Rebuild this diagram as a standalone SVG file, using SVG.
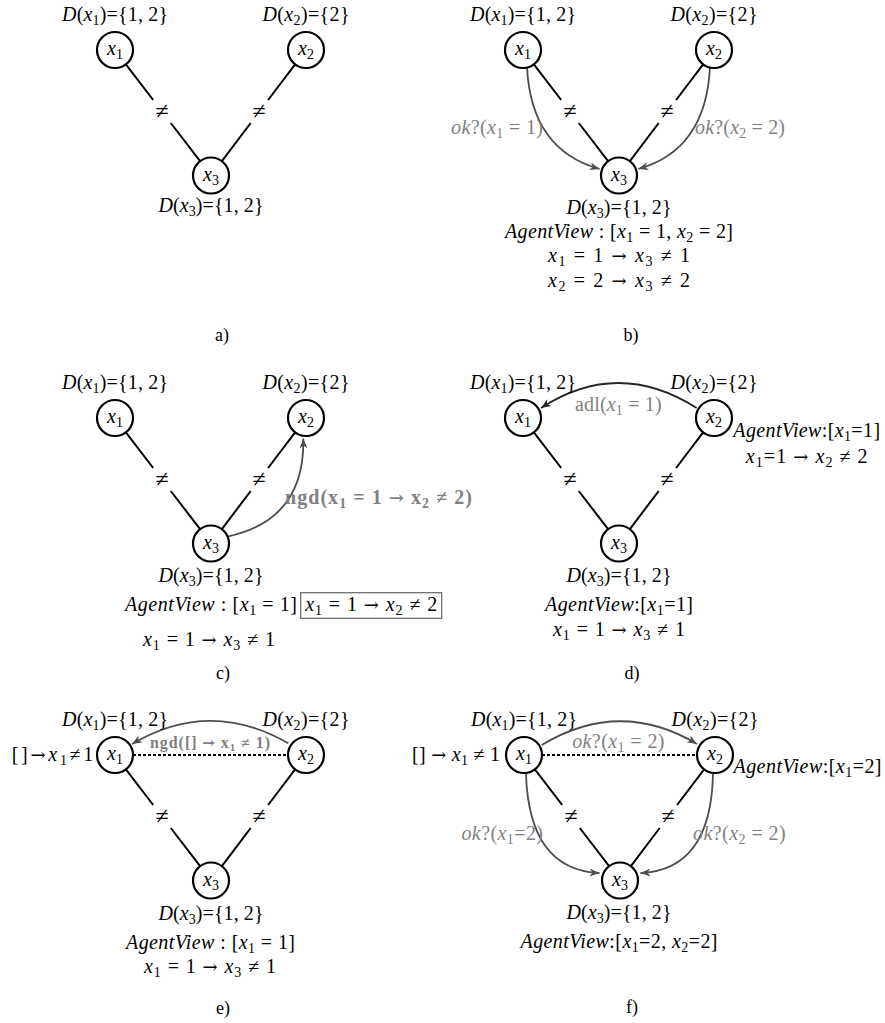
<svg xmlns="http://www.w3.org/2000/svg" width="885" height="1023" viewBox="0 0 885 1023">
<style>
text{font-family:"Liberation Serif","DejaVu Serif",serif;font-size:20px;fill:#000}
.c{text-anchor:middle}
.e{text-anchor:end}
.i{font-style:italic}
.sb{font-size:14px}
.g{fill:#7f7f7f}
.bd{font-weight:bold}
.op{font-family:"DejaVu Serif",serif;font-size:18px}
.nq{font-size:24px;text-anchor:middle}
.nd circle{fill:#fff;stroke:#000;stroke-width:2.2}
.ed{stroke:#000;stroke-width:2;fill:none}
.ar{stroke:#4d4d4d;stroke-width:1.8;fill:none;marker-end:url(#ah)}
.ard{stroke:#262626;stroke-width:1.8;fill:none;marker-end:url(#ahd)}
.dash{stroke:#000;stroke-width:2;stroke-dasharray:3 2;fill:none}
.pl{font-size:18px;text-anchor:middle}
</style>
<defs>
<marker id="ah" markerUnits="userSpaceOnUse" markerWidth="12" markerHeight="10" refX="10" refY="4" orient="auto"><path d="M0,0 L10,4 L0,8 L3,4 z" fill="#4d4d4d"/></marker>
<marker id="ahd" markerUnits="userSpaceOnUse" markerWidth="12" markerHeight="10" refX="10" refY="4" orient="auto"><path d="M0,0 L10,4 L0,8 L3,4 z" fill="#262626"/></marker>
</defs>
<rect width="885" height="1023" fill="#fff"/>

<!-- Panel a -->
<g id="panel-a" transform="translate(115,50)">
<g id="a-connectors">
<path class="ed" d="M10.9,14.3 L38.2,50 M55.8,73 L85.1,111.2"/>
<path class="ed" d="M180.1,14.4 L153.1,50 M135.7,73 L106.9,111.1"/>
<text class="nq" x="47" y="69">≠</text>
<text class="nq" x="144" y="69">≠</text>
</g>
<g id="a-x1" class="nd"><circle r="18"/><text class="c" y="5"><tspan class="i">x</tspan><tspan class="sb" dy="4">1</tspan></text>
<text class="c" y="-29" textLength="106"><tspan class="i">D</tspan>(<tspan class="i">x</tspan><tspan class="sb" dy="4">1</tspan><tspan dy="-4">)={1, 2}</tspan></text></g>
<g id="a-x2" class="nd"><circle cx="191" r="18"/><text class="c" x="191" y="5"><tspan class="i">x</tspan><tspan class="sb" dy="4">2</tspan></text>
<text class="c" x="191" y="-29" textLength="87"><tspan class="i">D</tspan>(<tspan class="i">x</tspan><tspan class="sb" dy="4">2</tspan><tspan dy="-4">)={2}</tspan></text></g>
<g id="a-x3" class="nd"><circle cx="96" cy="125.5" r="18"/><text class="c" x="96" y="130.5"><tspan class="i">x</tspan><tspan class="sb" dy="4">3</tspan></text>
<text class="c" x="96" y="162" textLength="105"><tspan class="i">D</tspan>(<tspan class="i">x</tspan><tspan class="sb" dy="4">3</tspan><tspan dy="-4">)={1, 2}</tspan></text></g>
</g>
<text class="pl" x="222" y="341">a)</text>

<!-- Panel b -->
<g id="panel-b" transform="translate(523,50)">
<g id="b-connectors">
<path class="ed" d="M10.9,14.3 L38.2,50 M55.8,73 L85.1,111.2"/>
<path class="ed" d="M180.1,14.4 L153.1,50 M135.7,73 L106.9,111.1"/>
<text class="nq" x="47" y="69">≠</text>
<text class="nq" x="144" y="69">≠</text>
<path class="ar" d="M4,16.7 Q8,100 76.6,118.9"/>
<path class="ar" d="M187,16.7 Q183,100 115.4,118.9"/>
<text class="e g" x="20" y="84" textLength="92"><tspan class="i">ok</tspan>?(<tspan class="i">x</tspan><tspan class="sb" dy="4">1</tspan><tspan dy="-4"> = 1)</tspan></text>
<text class="g" x="172" y="84" textLength="90"><tspan class="i">ok</tspan>?(<tspan class="i">x</tspan><tspan class="sb" dy="4">2</tspan><tspan dy="-4"> = 2)</tspan></text>
</g>
<g id="b-x1" class="nd"><circle r="18"/><text class="c" y="5"><tspan class="i">x</tspan><tspan class="sb" dy="4">1</tspan></text>
<text class="c" y="-29" textLength="106"><tspan class="i">D</tspan>(<tspan class="i">x</tspan><tspan class="sb" dy="4">1</tspan><tspan dy="-4">)={1, 2}</tspan></text></g>
<g id="b-x2" class="nd"><circle cx="191" r="18"/><text class="c" x="191" y="5"><tspan class="i">x</tspan><tspan class="sb" dy="4">2</tspan></text>
<text class="c" x="191" y="-29" textLength="87"><tspan class="i">D</tspan>(<tspan class="i">x</tspan><tspan class="sb" dy="4">2</tspan><tspan dy="-4">)={2}</tspan></text></g>
<g id="b-x3" class="nd"><circle cx="96" cy="125.5" r="18"/><text class="c" x="96" y="130.5"><tspan class="i">x</tspan><tspan class="sb" dy="4">3</tspan></text>
<text class="c" x="96" y="164" textLength="105"><tspan class="i">D</tspan>(<tspan class="i">x</tspan><tspan class="sb" dy="4">3</tspan><tspan dy="-4">)={1, 2}</tspan></text>
<text class="c" x="96" y="188" textLength="228"><tspan class="i">AgentView</tspan> : [<tspan class="i">x</tspan><tspan class="sb" dy="4">1</tspan><tspan dy="-4"> = 1, </tspan><tspan class="i">x</tspan><tspan class="sb" dy="4">2</tspan><tspan dy="-4"> = 2]</tspan></text>
<text class="c" x="96" y="212" textLength="142"><tspan class="i">x</tspan><tspan class="sb" dy="4">1</tspan><tspan dy="-4"> = 1 </tspan><tspan class="op">→</tspan> <tspan class="i">x</tspan><tspan class="sb" dy="4">3</tspan><tspan dy="-4"> ≠ 1</tspan></text>
<text class="c" x="96" y="237" textLength="142"><tspan class="i">x</tspan><tspan class="sb" dy="4">2</tspan><tspan dy="-4"> = 2 </tspan><tspan class="op">→</tspan> <tspan class="i">x</tspan><tspan class="sb" dy="4">3</tspan><tspan dy="-4"> ≠ 2</tspan></text></g>
</g>
<text class="pl" x="631" y="341">b)</text>

<!-- Panel c -->
<g id="panel-c" transform="translate(115,418)">
<g id="c-connectors">
<path class="ed" d="M10.9,14.3 L38.2,50 M55.8,73 L85.1,111.2"/>
<path class="ed" d="M180.1,14.4 L153.1,50 M135.7,73 L106.9,111.1"/>
<text class="nq" x="47" y="69">≠</text>
<text class="nq" x="144" y="69">≠</text>
<path class="ar" d="M113.3,118.4 Q190,101.7 188.3,20.5"/>
<text class="g bd" x="170" y="86" textLength="187">ngd(x<tspan class="sb" dy="4">1</tspan><tspan dy="-4"> = 1 </tspan><tspan class="op">→</tspan> x<tspan class="sb" dy="4">2</tspan><tspan dy="-4"> ≠ 2)</tspan></text>
</g>
<g id="c-x1" class="nd"><circle r="18"/><text class="c" y="5"><tspan class="i">x</tspan><tspan class="sb" dy="4">1</tspan></text>
<text class="c" y="-29" textLength="106"><tspan class="i">D</tspan>(<tspan class="i">x</tspan><tspan class="sb" dy="4">1</tspan><tspan dy="-4">)={1, 2}</tspan></text></g>
<g id="c-x2" class="nd"><circle cx="191" r="18"/><text class="c" x="191" y="5"><tspan class="i">x</tspan><tspan class="sb" dy="4">2</tspan></text>
<text class="c" x="191" y="-29" textLength="87"><tspan class="i">D</tspan>(<tspan class="i">x</tspan><tspan class="sb" dy="4">2</tspan><tspan dy="-4">)={2}</tspan></text></g>
<g id="c-x3" class="nd"><circle cx="96" cy="125.5" r="18"/><text class="c" x="96" y="130.5"><tspan class="i">x</tspan><tspan class="sb" dy="4">3</tspan></text>
<text class="c" x="96" y="164" textLength="105"><tspan class="i">D</tspan>(<tspan class="i">x</tspan><tspan class="sb" dy="4">3</tspan><tspan dy="-4">)={1, 2}</tspan></text>
<text x="10" y="193" textLength="172"><tspan class="i">AgentView</tspan> : [<tspan class="i">x</tspan><tspan class="sb" dy="4">1</tspan><tspan dy="-4"> = 1]</tspan></text>
<rect x="185.7" y="174.7" width="141" height="25.6" fill="none" stroke="#666" stroke-width="1.2"/>
<text class="c" x="256.2" y="193" textLength="132"><tspan class="i">x</tspan><tspan class="sb" dy="4">1</tspan><tspan dy="-4"> = 1 </tspan><tspan class="op">→</tspan> <tspan class="i">x</tspan><tspan class="sb" dy="4">2</tspan><tspan dy="-4"> ≠ 2</tspan></text>
<text class="c" x="94" y="228" textLength="132"><tspan class="i">x</tspan><tspan class="sb" dy="4">1</tspan><tspan dy="-4"> = 1 </tspan><tspan class="op">→</tspan> <tspan class="i">x</tspan><tspan class="sb" dy="4">3</tspan><tspan dy="-4"> ≠ 1</tspan></text></g>
</g>
<text class="pl" x="223" y="679">c)</text>

<!-- Panel d -->
<g id="panel-d" transform="translate(523,418)">
<g id="d-connectors">
<path class="ed" d="M10.9,14.3 L38.2,50 M55.8,73 L85.1,111.2"/>
<path class="ed" d="M180.1,14.4 L153.1,50 M135.7,73 L106.9,111.1"/>
<text class="nq" x="47" y="69">≠</text>
<text class="nq" x="144" y="69">≠</text>
<path class="ard" d="M173.7,-10 Q95,-60 18,-10"/>
<text class="c g" x="95.3" y="-7" textLength="86.7">adl(<tspan class="i">x</tspan><tspan class="sb" dy="4">1</tspan><tspan dy="-4"> = 1)</tspan></text>
</g>
<g id="d-x1" class="nd"><circle r="18"/><text class="c" y="5"><tspan class="i">x</tspan><tspan class="sb" dy="4">1</tspan></text>
<text class="c" y="-29" textLength="106"><tspan class="i">D</tspan>(<tspan class="i">x</tspan><tspan class="sb" dy="4">1</tspan><tspan dy="-4">)={1, 2}</tspan></text></g>
<g id="d-x2" class="nd"><circle cx="191" r="18"/><text class="c" x="191" y="5"><tspan class="i">x</tspan><tspan class="sb" dy="4">2</tspan></text>
<text class="c" x="191" y="-29" textLength="87"><tspan class="i">D</tspan>(<tspan class="i">x</tspan><tspan class="sb" dy="4">2</tspan><tspan dy="-4">)={2}</tspan></text>
<text class="c" x="283.7" y="18.7" textLength="146.7"><tspan class="i">AgentView</tspan>:[<tspan class="i">x</tspan><tspan class="sb" dy="4">1</tspan><tspan dy="-4">=1]</tspan></text>
<text class="c" x="283.7" y="44.7" textLength="121.7"><tspan class="i">x</tspan><tspan class="sb" dy="4">1</tspan><tspan dy="-4">=1 </tspan><tspan class="op">→</tspan> <tspan class="i">x</tspan><tspan class="sb" dy="4">2</tspan><tspan dy="-4"> ≠ 2</tspan></text></g>
<g id="d-x3" class="nd"><circle cx="96" cy="125.5" r="18"/><text class="c" x="96" y="130.5"><tspan class="i">x</tspan><tspan class="sb" dy="4">3</tspan></text>
<text class="c" x="96" y="164" textLength="105"><tspan class="i">D</tspan>(<tspan class="i">x</tspan><tspan class="sb" dy="4">3</tspan><tspan dy="-4">)={1, 2}</tspan></text>
<text class="c" x="96" y="193" textLength="148"><tspan class="i">AgentView</tspan>:[<tspan class="i">x</tspan><tspan class="sb" dy="4">1</tspan><tspan dy="-4">=1]</tspan></text>
<text class="c" x="96" y="218" textLength="132"><tspan class="i">x</tspan><tspan class="sb" dy="4">1</tspan><tspan dy="-4"> = 1 </tspan><tspan class="op">→</tspan> <tspan class="i">x</tspan><tspan class="sb" dy="4">3</tspan><tspan dy="-4"> ≠ 1</tspan></text></g>
</g>
<text class="pl" x="632" y="679">d)</text>

<!-- Panel e -->
<g id="panel-e" transform="translate(115,755)">
<g id="e-connectors">
<path class="ed" d="M10.9,14.3 L38.2,50 M55.8,73 L85.1,111.2"/>
<path class="ed" d="M180.1,14.4 L153.1,50 M135.7,73 L106.9,111.1"/>
<text class="nq" x="47" y="69">≠</text>
<text class="nq" x="144" y="69">≠</text>
<path class="dash" d="M18,0 L173,0"/>
<path class="ar" d="M173.3,-11.7 Q95,-57 17,-11"/>
<text class="c g bd" x="95" y="-7" style="font-size:16px" textLength="120">ngd([] <tspan class="op" style="font-size:15px">→</tspan> x<tspan style="font-size:11px" dy="3">1</tspan><tspan dy="-3"> ≠ 1)</tspan></text>
</g>
<g id="e-x1" class="nd"><circle r="18"/><text class="c" y="5"><tspan class="i">x</tspan><tspan class="sb" dy="4">1</tspan></text>
<text class="c" y="-29" textLength="106"><tspan class="i">D</tspan>(<tspan class="i">x</tspan><tspan class="sb" dy="4">1</tspan><tspan dy="-4">)={1, 2}</tspan></text>
<text class="e" x="-21.7" y="6" textLength="81.6">[]<tspan class="op">→</tspan><tspan class="i">x</tspan><tspan class="sb" dy="4">1</tspan><tspan dy="-4">≠1</tspan></text></g>
<g id="e-x2" class="nd"><circle cx="191" r="18"/><text class="c" x="191" y="5"><tspan class="i">x</tspan><tspan class="sb" dy="4">2</tspan></text>
<text class="c" x="191" y="-29" textLength="87"><tspan class="i">D</tspan>(<tspan class="i">x</tspan><tspan class="sb" dy="4">2</tspan><tspan dy="-4">)={2}</tspan></text></g>
<g id="e-x3" class="nd"><circle cx="96" cy="125.5" r="18"/><text class="c" x="96" y="130.5"><tspan class="i">x</tspan><tspan class="sb" dy="4">3</tspan></text>
<text class="c" x="96" y="165" textLength="105"><tspan class="i">D</tspan>(<tspan class="i">x</tspan><tspan class="sb" dy="4">3</tspan><tspan dy="-4">)={1, 2}</tspan></text>
<text class="c" x="95.5" y="194" textLength="169"><tspan class="i">AgentView</tspan> : [<tspan class="i">x</tspan><tspan class="sb" dy="4">1</tspan><tspan dy="-4"> = 1]</tspan></text>
<text class="c" x="95" y="218" textLength="132"><tspan class="i">x</tspan><tspan class="sb" dy="4">1</tspan><tspan dy="-4"> = 1 </tspan><tspan class="op">→</tspan> <tspan class="i">x</tspan><tspan class="sb" dy="4">3</tspan><tspan dy="-4"> ≠ 1</tspan></text></g>
</g>
<text class="pl" x="223" y="1014">e)</text>

<!-- Panel f -->
<g id="panel-f" transform="translate(524,755)">
<g id="f-connectors">
<path class="ed" d="M10.9,14.3 L38.2,50 M55.8,73 L85.1,111.2"/>
<path class="ed" d="M180.1,14.4 L153.1,50 M135.7,73 L106.9,111.1"/>
<text class="nq" x="47" y="69">≠</text>
<text class="nq" x="144" y="69">≠</text>
<path class="dash" d="M18,0 L173,0"/>
<path class="ar" d="M17.7,-10 Q96,-57 173,-11"/>
<text class="c g" x="94.3" y="-7" textLength="92.3"><tspan class="i">ok</tspan>?(<tspan class="i">x</tspan><tspan class="sb" dy="4">1</tspan><tspan dy="-4"> = 2)</tspan></text>
<path class="ar" d="M2,19 Q5,115 75.5,118"/>
<path class="ar" d="M189,19 Q187,115 116.5,118"/>
<text class="e g" x="19" y="85" textLength="81.6"><tspan class="i">ok</tspan>?(<tspan class="i">x</tspan><tspan class="sb" dy="4">1</tspan><tspan dy="-4">=2)</tspan></text>
<text class="g" x="169" y="85" textLength="92.7"><tspan class="i">ok</tspan>?(<tspan class="i">x</tspan><tspan class="sb" dy="4">2</tspan><tspan dy="-4"> = 2)</tspan></text>
</g>
<g id="f-x1" class="nd"><circle r="18"/><text class="c" y="5"><tspan class="i">x</tspan><tspan class="sb" dy="4">1</tspan></text>
<text class="c" y="-29" textLength="106"><tspan class="i">D</tspan>(<tspan class="i">x</tspan><tspan class="sb" dy="4">1</tspan><tspan dy="-4">)={1, 2}</tspan></text>
<text class="e" x="-24" y="6" textLength="88">[] <tspan class="op">→</tspan> <tspan class="i">x</tspan><tspan class="sb" dy="4">1</tspan><tspan dy="-4"> ≠ 1</tspan></text></g>
<g id="f-x2" class="nd"><circle cx="191" r="18"/><text class="c" x="191" y="5"><tspan class="i">x</tspan><tspan class="sb" dy="4">2</tspan></text>
<text class="c" x="191" y="-29" textLength="87"><tspan class="i">D</tspan>(<tspan class="i">x</tspan><tspan class="sb" dy="4">2</tspan><tspan dy="-4">)={2}</tspan></text>
<text class="c" x="283.5" y="18.3" textLength="148"><tspan class="i">AgentView</tspan>:[<tspan class="i">x</tspan><tspan class="sb" dy="4">1</tspan><tspan dy="-4">=2]</tspan></text></g>
<g id="f-x3" class="nd"><circle cx="96" cy="125.5" r="18"/><text class="c" x="96" y="130.5"><tspan class="i">x</tspan><tspan class="sb" dy="4">3</tspan></text>
<text class="c" x="95" y="164" textLength="105"><tspan class="i">D</tspan>(<tspan class="i">x</tspan><tspan class="sb" dy="4">3</tspan><tspan dy="-4">)={1, 2}</tspan></text>
<text class="c" x="95" y="193" textLength="197"><tspan class="i">AgentView</tspan>:[<tspan class="i">x</tspan><tspan class="sb" dy="4">1</tspan><tspan dy="-4">=2, </tspan><tspan class="i">x</tspan><tspan class="sb" dy="4">2</tspan><tspan dy="-4">=2]</tspan></text></g>
</g>
<text class="pl" x="632" y="1013">f)</text>
</svg>
